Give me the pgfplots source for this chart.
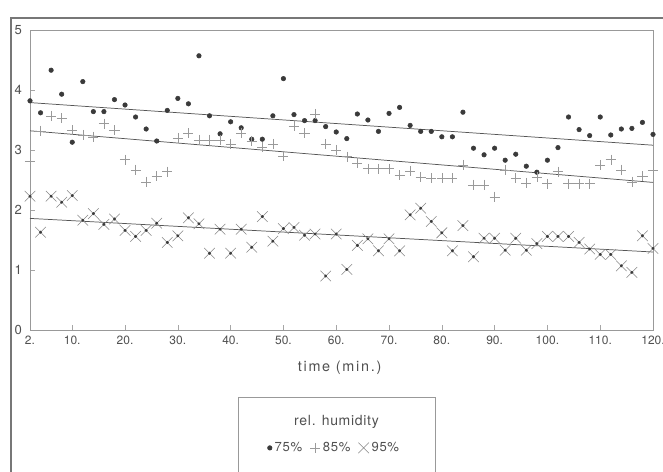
\documentclass[border=0pt]{standalone}
\usepackage{fontspec}
\setmainfont{TeX Gyre Heros}
\newfontfamily\spaced[LetterSpace=12]{TeX Gyre Heros}
\newfontfamily\spacedl[LetterSpace=5]{TeX Gyre Heros}
\usepackage{pgfplots}
\usepackage{pgfplotstable}
\pgfplotsset{compat=1.18}

\definecolor{dotc}{HTML}{3A3A3A}
\definecolor{plusc}{HTML}{9A9A9A}
\definecolor{crossc}{HTML}{858585}
\definecolor{linec}{HTML}{555555}
\definecolor{framec}{HTML}{777777}
\definecolor{txt}{HTML}{505050}

% time (min.)  value
\pgfplotstableread{
t v
2 3.82
4 3.62
6 4.33
8 3.93
10 3.13
12 4.14
14 3.64
16 3.64
18 3.84
20 3.75
22 3.55
24 3.35
26 3.15
28 3.66
30 3.86
32 3.77
34 4.57
36 3.57
38 3.27
40 3.47
42 3.37
44 3.18
46 3.18
48 3.57
50 4.19
52 3.59
54 3.49
56 3.49
58 3.39
60 3.30
62 3.19
64 3.60
66 3.50
68 3.31
70 3.61
72 3.71
74 3.41
76 3.31
78 3.31
80 3.22
82 3.22
84 3.63
86 3.03
88 2.92
90 3.03
92 2.83
94 2.93
96 2.73
98 2.63
100 2.83
102 3.04
104 3.55
106 3.34
108 3.24
110 3.55
112 3.25
114 3.35
116 3.36
118 3.46
120 3.26
}\rhA

\pgfplotstableread{
t v
2 2.82
4 3.32
6 3.57
8 3.53
10 3.33
12 3.25
14 3.22
16 3.44
18 3.33
20 2.84
22 2.67
24 2.47
26 2.56
28 2.64
30 3.20
32 3.28
34 3.17
36 3.17
38 3.17
40 3.10
42 3.28
44 3.15
46 3.05
48 3.10
50 2.90
52 3.40
54 3.28
56 3.60
58 3.10
60 3.00
62 2.89
64 2.78
66 2.69
68 2.69
70 2.69
72 2.58
74 2.65
76 2.55
78 2.53
80 2.53
82 2.53
84 2.75
86 2.42
88 2.42
90 2.22
92 2.67
94 2.53
96 2.45
98 2.55
100 2.44
102 2.64
104 2.44
106 2.44
108 2.44
110 2.75
112 2.84
114 2.67
116 2.47
118 2.56
120 2.67
}\rhB

\pgfplotstableread{
t v
2 2.23
4 1.63
6 2.23
8 2.13
10 2.24
12 1.83
14 1.94
16 1.76
18 1.85
20 1.66
22 1.56
24 1.66
26 1.78
28 1.46
30 1.57
32 1.87
34 1.77
36 1.28
38 1.68
40 1.28
42 1.68
44 1.38
46 1.89
48 1.48
50 1.69
52 1.71
54 1.58
56 1.60
58 0.90
60 1.60
62 1.01
64 1.41
66 1.52
68 1.32
70 1.52
72 1.32
74 1.92
76 2.03
78 1.81
80 1.62
82 1.32
84 1.74
86 1.22
88 1.53
90 1.53
92 1.33
94 1.53
96 1.33
98 1.44
100 1.56
102 1.56
104 1.56
106 1.46
108 1.35
110 1.26
112 1.26
114 1.07
116 0.96
118 1.57
120 1.36
}\rhC

\begin{document}
\begin{tikzpicture}
\begin{axis}[
  scale only axis, width=467.25pt, height=225pt,
  xmin=2, xmax=120, ymin=0, ymax=5,
  clip=false,
  axis line style={draw=black!40, line width=0.6pt},
  xtick={2,10,20,30,40,50,60,70,80,90,100,110,120},
  xticklabels={2.,10.,20.,30.,40.,50.,60.,70.,80.,90.,100.,110.,120.},
  ytick={0,1,2,3,4,5}, yticklabels={0,1,2,3,4,5},
  tick pos=left, tick align=inside, major tick length=4pt,
  tick style={draw=black!35, line width=0.4pt},
  /pgf/number format/assume math mode=true,
  ticklabel style={font=\fontsize{9}{10}\selectfont, text=txt},
  xticklabel style={yshift=-1pt},
  yticklabel style={xshift=-2.5pt, font=\fontsize{9.8}{11}\selectfont},
  xlabel={\spaced time (min.)},
  xlabel style={at={(rel axis cs:0.497,-0.127)}, anchor=center,
    font=\fontsize{10.8}{12}\selectfont, text=txt},
  legend columns=3,
  legend style={at={(rel axis cs:0.489,-0.393)}, anchor=center, draw=none,
    fill=none, font=\spacedl\fontsize{9.8}{11}\selectfont, text=txt,
    /tikz/every even column/.append style={column sep=4pt}},
]
\addplot[only marks, mark=*, mark size=1.7pt, color=dotc] table[x=t,y=v] {\rhA};
\addlegendentry{75\%}
\addplot[only marks, mark=+, mark size=3.8pt, color=plusc, mark options={line width=0.4pt}] table[x=t,y=v] {\rhB};
\addlegendentry{85\%}
\addplot[only marks, mark=x, mark size=5.6pt, color=crossc, mark options={line width=0.4pt}] table[x=t,y=v] {\rhC};
\addlegendentry{95\%}
\addplot[only marks, mark=*, mark size=0.9pt, color=dotc, forget plot] table[x=t,y=v] {\rhC};
% fitted lines, end points
\addplot[linec, line width=0.55pt, forget plot] coordinates {(2,3.79) (120,3.08)};
\addplot[linec, line width=0.55pt, forget plot] coordinates {(2,3.32) (120,2.46)};
\addplot[linec, line width=0.55pt, forget plot] coordinates {(2,1.86) (120,1.30)};
% legend box and title
\draw[black!40, line width=0.6pt] (rel axis cs:0.3339,-0.2233) rectangle (rel axis cs:0.6501,-0.60);
\node[font=\spacedl\fontsize{10.5}{12}\selectfont, text=txt] at (rel axis cs:0.492,-0.3067) {rel. humidity};
% outer frame
\draw[framec, line width=1.2pt] (rel axis cs:-0.0305,-0.60) -- (rel axis cs:-0.0305,1.04) -- (rel axis cs:1.05,1.04);
\coordinate (bbsw) at (rel axis cs:-0.04815,-0.47);
\coordinate (bbne) at (rel axis cs:1.01605,1.1);
\end{axis}
\pgfresetboundingbox
\useasboundingbox (bbsw) rectangle (bbne);
\end{tikzpicture}
\end{document}
